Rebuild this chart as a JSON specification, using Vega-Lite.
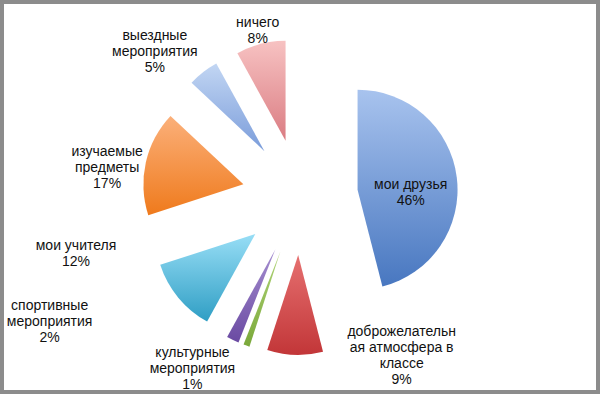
{
  "$schema": "https://vega.github.io/schema/vega-lite/v6.json",
  "width": 600,
  "height": 394,
  "padding": 0,
  "autosize": {"type": "fit", "contains": "padding"},
  "background": "white",
  "config": {"view": {"stroke": null}},
  "data": {
    "values": [
      {"i": 0, "category": "мои друзья", "label": "мои друзья\n46%", "value": 46},
      {"i": 1, "category": "доброжелательная атмосфера в классе", "label": "доброжелательн\nая атмосфера в\nклассе\n9%", "value": 9},
      {"i": 2, "category": "культурные мероприятия", "label": "культурные\nмероприятия\n1%", "value": 1},
      {"i": 3, "category": "спортивные мероприятия", "label": "спортивные\nмероприятия\n2%", "value": 2},
      {"i": 4, "category": "мои учителя", "label": "мои учителя\n12%", "value": 12},
      {"i": 5, "category": "изучаемые предметы", "label": "изучаемые\nпредметы\n17%", "value": 17},
      {"i": 6, "category": "выездные мероприятия", "label": "выездные\nмероприятия\n5%", "value": 5},
      {"i": 7, "category": "ничего", "label": "ничего\n8%", "value": 8}
    ]
  },
  "layer": [
    {
      "data": {"values": [{"frame": 1}]},
      "mark": {"type": "rect", "fill": null, "stroke": "#8c8c8c", "strokeWidth": 4}
    },
    {
      "mark": {
        "type": "arc",
        "outerRadius": 100,
        "stroke": null,
        "xOffset": {"expr": "58*sin(PI*(datum.value_start+datum.value_end)/100)"},
        "yOffset": {"expr": "-58*cos(PI*(datum.value_start+datum.value_end)/100)"}
      },
      "encoding": {
        "theta": {"field": "value", "type": "quantitative", "stack": true},
        "order": {"field": "i", "type": "ordinal"},
        "fill": {
          "condition": [
            {"test": "datum.i===0", "value": {"gradient": "linear", "x1": 0, "y1": 0, "x2": 0, "y2": 1, "stops": [{"offset": 0, "color": "#a8c3ee"}, {"offset": 1, "color": "#4877c0"}]}},
            {"test": "datum.i===1", "value": {"gradient": "linear", "x1": 0, "y1": 0, "x2": 0, "y2": 1, "stops": [{"offset": 0, "color": "#e67070"}, {"offset": 1, "color": "#c23638"}]}},
            {"test": "datum.i===2", "value": {"gradient": "linear", "x1": 0, "y1": 0, "x2": 0, "y2": 1, "stops": [{"offset": 0, "color": "#b0d478"}, {"offset": 1, "color": "#7aa83a"}]}},
            {"test": "datum.i===3", "value": {"gradient": "linear", "x1": 0, "y1": 0, "x2": 0, "y2": 1, "stops": [{"offset": 0, "color": "#a58ed0"}, {"offset": 1, "color": "#6a4aa2"}]}},
            {"test": "datum.i===4", "value": {"gradient": "linear", "x1": 0, "y1": 0, "x2": 0, "y2": 1, "stops": [{"offset": 0, "color": "#98def6"}, {"offset": 1, "color": "#2f9ec4"}]}},
            {"test": "datum.i===5", "value": {"gradient": "linear", "x1": 0, "y1": 0, "x2": 0, "y2": 1, "stops": [{"offset": 0, "color": "#fbb07a"}, {"offset": 1, "color": "#ef7a1c"}]}},
            {"test": "datum.i===6", "value": {"gradient": "linear", "x1": 0, "y1": 0, "x2": 0, "y2": 1, "stops": [{"offset": 0, "color": "#c2d6f3"}, {"offset": 1, "color": "#7a9cda"}]}}
          ],
          "value": {"gradient": "linear", "x1": 0, "y1": 0, "x2": 0, "y2": 1, "stops": [{"offset": 0, "color": "#f7c2c2"}, {"offset": 1, "color": "#da7c82"}]}
        }
      }
    },
    {
      "mark": {
        "type": "text",
        "radius": 170,
        "font": "Liberation Sans",
        "fontSize": 14,
        "lineHeight": 16,
        "lineBreak": "\n",
        "align": "center",
        "baseline": "middle",
        "fill": "#111111",
        "dx": {"expr": "[-58,107,-50,-178,-93,-27,-41,0][datum.i]"},
        "dy": {"expr": "[9,-35,-4,-45,-59,-8,-27,-9][datum.i]"}
      },
      "encoding": {
        "theta": {"field": "value", "type": "quantitative", "stack": true},
        "order": {"field": "i", "type": "ordinal"},
        "text": {"field": "label", "type": "nominal"}
      }
    }
  ]
}
